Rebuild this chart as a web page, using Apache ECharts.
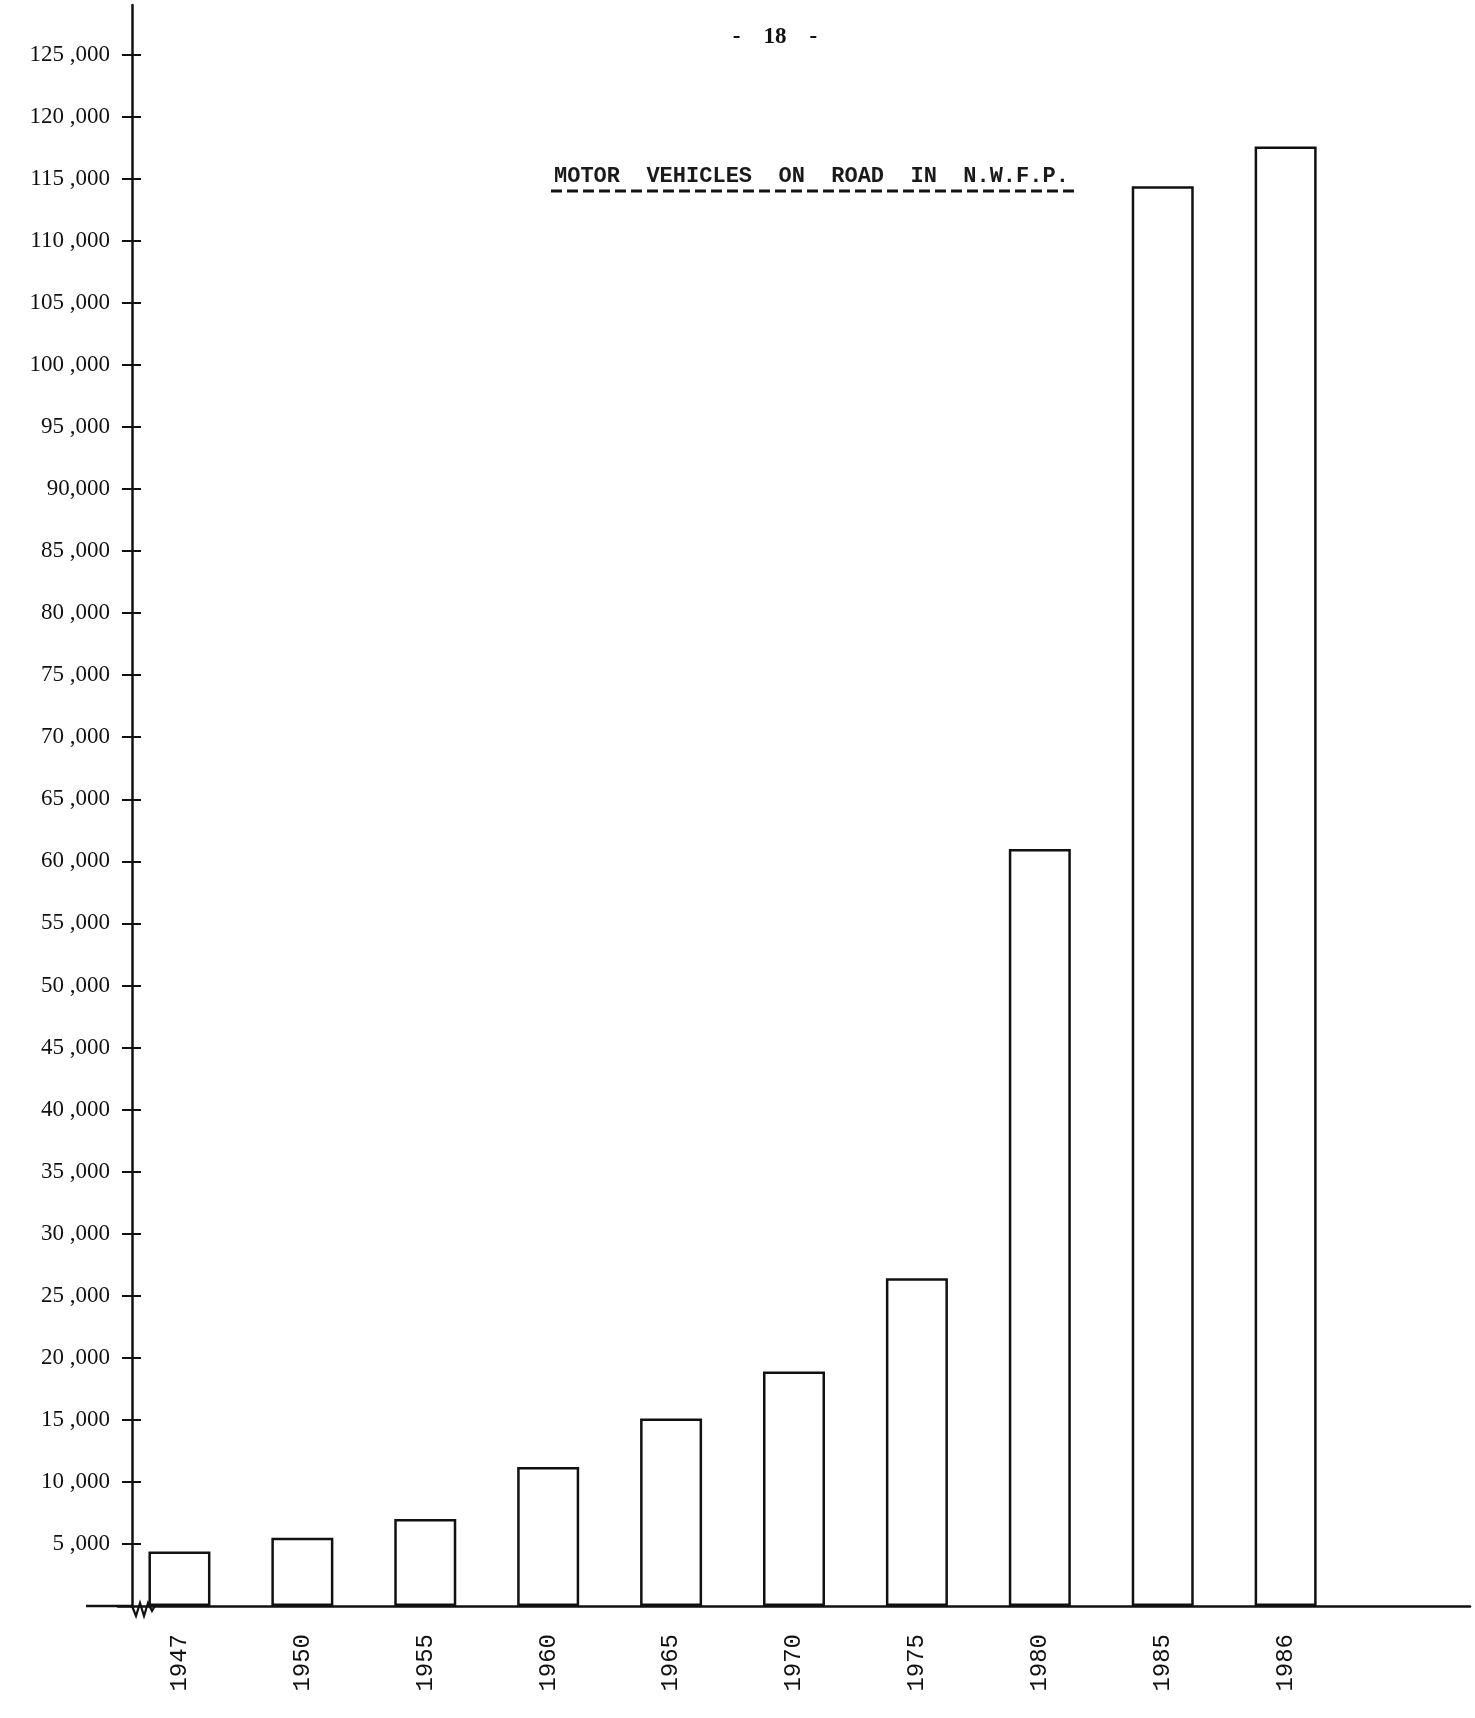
<!DOCTYPE html>
<html><head><meta charset="utf-8">
<script src="https://cdn.jsdelivr.net/npm/echarts@6/dist/echarts.min.js"></script>
<style>html,body{margin:0;padding:0;background:#fff}#c{width:1475px;height:1718px}</style>
</head><body><div id="c"></div>
<script>
// ---- data ----
const years = ['1947','1950','1955','1960','1965','1970','1975','1980','1985','1986'];
const vehicles = [4400, 5500, 7000, 11200, 15100, 18900, 26400, 61000, 114400, 117600];
const yTickValues = [5000,10000,15000,20000,25000,30000,35000,40000,45000,50000,55000,60000,65000,70000,75000,80000,85000,90000,95000,100000,105000,110000,115000,120000,125000];
const yTickLabels = ['5 ,000','10 ,000','15 ,000','20 ,000','25 ,000','30 ,000','35 ,000','40 ,000','45 ,000','50 ,000','55 ,000','60 ,000','65 ,000','70 ,000','75 ,000','80 ,000','85 ,000','90,000','95 ,000','100 ,000','105 ,000','110 ,000','115 ,000','120 ,000','125 ,000'];
const pageNumber = '-    18    -';
const chartTitle = 'MOTOR  VEHICLES  ON  ROAD  IN  N.W.F.P.';

const chart = echarts.init(document.getElementById('c'), null, {renderer:'canvas'});
const axisCats = years.concat(['']);
const yMax = 129000;
const yCommon = {
  type:'value', min:0, max:yMax, position:'left', offset:-14,
  splitLine:{show:false}
};
chart.setOption({
  animation:false,
  backgroundColor:'#fff',
  grid:{left:118, right:5, top:5, bottom:112},
  title:[
    {text:pageNumber, left:770, top:21, textAlign:'center',
     textStyle:{fontFamily:'Liberation Serif', fontSize:23, fontWeight:'bold', color:'#111'}},
    {text:chartTitle, left:549, top:160,
     textStyle:{fontFamily:'Liberation Mono', fontSize:22, fontWeight:'bold', color:'#1a1a1a'}}
  ],
  xAxis:{
    type:'category', data:axisCats, boundaryGap:true,
    axisLine:{lineStyle:{color:'#111', width:2.5}},
    axisTick:{show:false},
    axisLabel:{rotate:90, margin:28, fontFamily:'Liberation Mono', fontSize:24, color:'#111', interval:0}
  },
  yAxis:[
    Object.assign({}, yCommon, {
      axisLine:{show:true, lineStyle:{color:'#111', width:2.5}},
      axisTick:{show:true, inside:false, length:10, lineStyle:{color:'#111', width:2}, customValues:yTickValues},
      axisLabel:{show:true, margin:22, fontFamily:'Liberation Serif', fontSize:23, color:'#111',
        customValues:yTickValues,
        formatter:function(v){const i=yTickValues.indexOf(v); return i>=0?yTickLabels[i]:'';}}
    }),
    Object.assign({}, yCommon, {
      axisLine:{show:false},
      axisTick:{show:true, inside:true, length:9, lineStyle:{color:'#111', width:2}, customValues:yTickValues},
      axisLabel:{show:false}
    })
  ],
  series:[{
    type:'bar', data:vehicles, barWidth:62, yAxisIndex:0,
    itemStyle:{color:'#fff', borderColor:'#111', borderWidth:2.5}
  }]
});

// decorations: title underline, x-axis extension and break mark
const base = chart.convertToPixel({yAxisIndex:0}, 0);
const yAxisX = 132;
chart.setOption({
  graphic:[
    {type:'line', shape:{x1:551, y1:191, x2:1074, y2:191},
     style:{stroke:'#111', lineWidth:3, lineDash:[11,5]}},
    {type:'line', shape:{x1:86, y1:base, x2:yAxisX, y2:base},
     style:{stroke:'#111', lineWidth:2.5}},
    {type:'polyline', shape:{points:[[yAxisX,base],[yAxisX+4,base+10],[yAxisX+8,base-3],[yAxisX+12,base+10],[yAxisX+16,base-3],[yAxisX+20,base+5],[yAxisX+24,base-2],[yAxisX+30,base]]},
     style:{stroke:'#111', lineWidth:2.2, fill:null}},
    {type:'rect', shape:{x:yAxisX+2, y:base-1.5, width:26, height:3}, style:{fill:'#fff'}, z:-1}
  ]
});
</script></body></html>
